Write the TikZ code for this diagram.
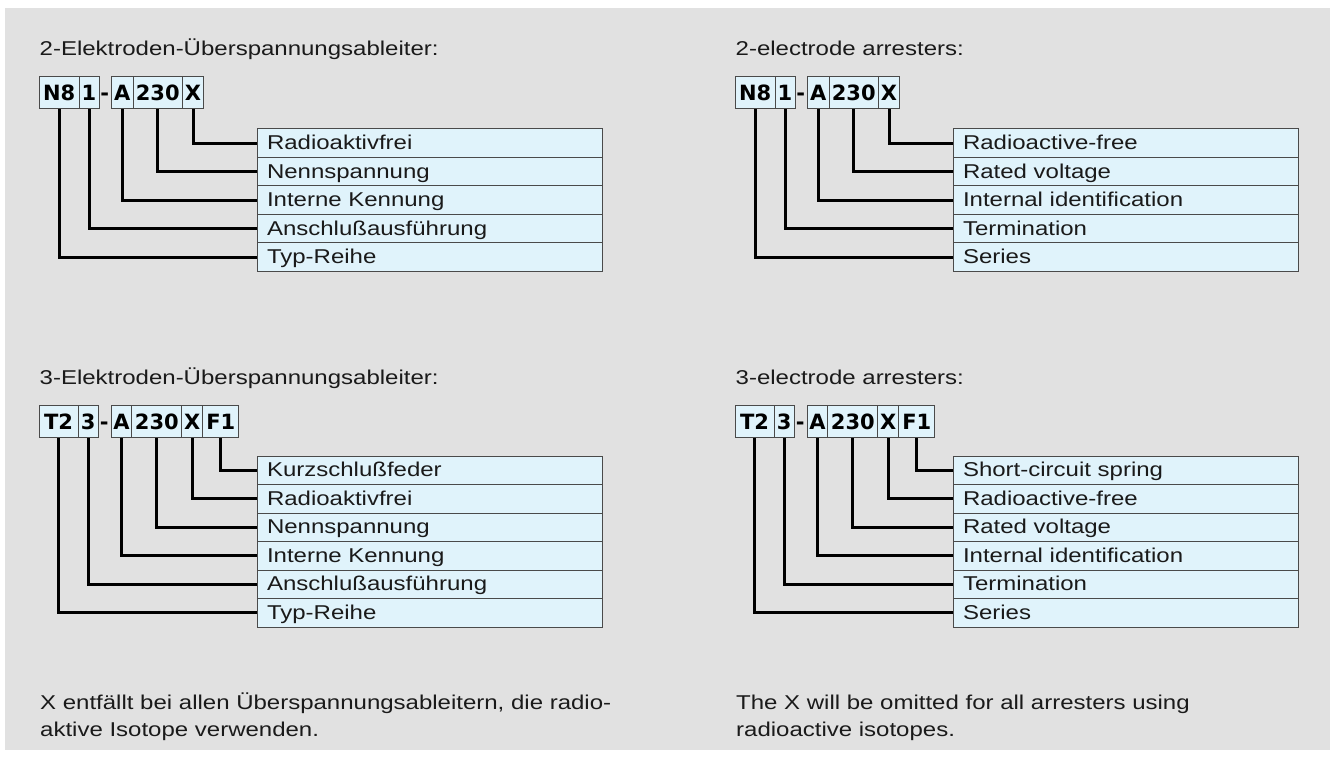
\documentclass[tikz,border=0pt]{standalone}
\usepackage{fontspec}
\setmainfont[FakeStretch=1.2]{Liberation Sans}
\newfontfamily\codefont{DejaVu Sans}
\definecolor{bggrey}{HTML}{E1E1E1}
\definecolor{boxfill}{HTML}{E0F3FB}
\definecolor{boxline}{HTML}{4A4A4A}
\definecolor{ink}{HTML}{1A1A1A}
\tikzset{
  codebox/.style={draw=boxline, line width=1pt, fill=boxfill, anchor=north west,
    minimum height=32pt, inner xsep=0pt, inner ysep=0pt, text height=20pt, text depth=4pt,
    font=\codefont\bfseries\fontsize{21}{24}\selectfont, text=black},
  hyph/.style={font=\codefont\bfseries\fontsize{21}{24}\selectfont, inner sep=0pt,
    text height=20pt, text depth=4pt, text=black},
  labelrow/.style={draw=boxline, line width=1pt, fill=boxfill, anchor=north west,
    minimum width=345pt, minimum height=28.5pt, inner xsep=9.5pt, inner ysep=0pt,
    text width=326pt, align=left, text height=17pt, text depth=4pt,
    font=\fontsize{20}{24}\selectfont, text=ink},
  plain/.style={anchor=base west, inner sep=0pt, font=\fontsize{20}{24}\selectfont, text=ink},
  conn/.style={line width=3pt, black, line join=miter, line cap=butt}
}
\begin{document}
\begin{tikzpicture}[x=1pt,y=-1pt]
\useasboundingbox (0,0) rectangle (1330,758);
\fill[bggrey] (5,8) rectangle (1330,750);

% ================= LEFT COLUMN =================
\node[plain] (t1) at (39.5,55) {2-Elektroden-Überspannungsableiter:};
\node[codebox, minimum width=39.5pt] (La) at (39,76) {N8};
\node[codebox, minimum width=20pt] (Lb) at (78.5,76) {1};
\node[hyph] (Lh) at (104.8,92) {-};
\node[codebox, minimum width=21.5pt] (Lc) at (111,76) {A};
\node[codebox, minimum width=49.5pt] (Ld) at (132.5,76) {230};
\node[codebox, minimum width=21pt] (Le) at (182,76) {X};

\node[labelrow] (Lr0) at (257,128.3) {Radioaktivfrei};
\node[labelrow] (Lr1) at (257,156.8) {Nennspannung};
\node[labelrow] (Lr2) at (257,185.3) {Interne Kennung};
\node[labelrow] (Lr3) at (257,213.8) {Anschlußausführung};
\node[labelrow] (Lr4) at (257,242.3) {Typ-Reihe};

\draw[conn] (Le.south) |- (Lr0.west);
\draw[conn] (Ld.south) |- (Lr1.west);
\draw[conn] (Lc.south) |- (Lr2.west);
\draw[conn] (Lb.south) |- (Lr3.west);
\draw[conn] (La.south) |- (Lr4.west);

\node[plain] (t2) at (39.5,384) {3-Elektroden-Überspannungsableiter:};
\node[codebox, minimum width=39pt] (Ma) at (38.5,405) {T2};
\node[codebox, minimum width=20.5pt] (Mb) at (77.5,405) {3};
\node[hyph] (Mh) at (104.2,421) {-};
\node[codebox, minimum width=20.6pt] (Mc) at (110.7,405) {A};
\node[codebox, minimum width=50pt] (Md) at (131.3,405) {230};
\node[codebox, minimum width=21pt] (Me) at (181.3,405) {X};
\node[codebox, minimum width=36pt] (Mf) at (202.3,405) {F1};

\node[labelrow] (Mr0) at (257,455.7) {Kurzschlußfeder};
\node[labelrow] (Mr1) at (257,484.2) {Radioaktivfrei};
\node[labelrow] (Mr2) at (257,512.7) {Nennspannung};
\node[labelrow] (Mr3) at (257,541.2) {Interne Kennung};
\node[labelrow] (Mr4) at (257,569.7) {Anschlußausführung};
\node[labelrow] (Mr5) at (257,598.2) {Typ-Reihe};

\draw[conn] (Mf.south) |- (Mr0.west);
\draw[conn] (Me.south) |- (Mr1.west);
\draw[conn] (Md.south) |- (Mr2.west);
\draw[conn] (Mc.south) |- (Mr3.west);
\draw[conn] (Mb.south) |- (Mr4.west);
\draw[conn] (Ma.south) |- (Mr5.west);

\node[plain] (n1) at (40,709) {X entfällt bei allen Überspannungsableitern, die radio-};
\node[plain] (n2) at (40,736) {aktive Isotope verwenden.};

% ================= RIGHT COLUMN =================
\begin{scope}[xshift=696pt]
\node[plain] (u1) at (39.5,55) {2-electrode arresters:};
\node[codebox, minimum width=39.5pt] (Ra) at (39,76) {N8};
\node[codebox, minimum width=20pt] (Rb) at (78.5,76) {1};
\node[hyph] (Rh) at (104.8,92) {-};
\node[codebox, minimum width=21.5pt] (Rc) at (111,76) {A};
\node[codebox, minimum width=49.5pt] (Rd) at (132.5,76) {230};
\node[codebox, minimum width=21pt] (Re) at (182,76) {X};

\node[labelrow] (Rr0) at (257,128.3) {Radioactive-free};
\node[labelrow] (Rr1) at (257,156.8) {Rated voltage};
\node[labelrow] (Rr2) at (257,185.3) {Internal identification};
\node[labelrow] (Rr3) at (257,213.8) {Termination};
\node[labelrow] (Rr4) at (257,242.3) {Series};

\draw[conn] (Re.south) |- (Rr0.west);
\draw[conn] (Rd.south) |- (Rr1.west);
\draw[conn] (Rc.south) |- (Rr2.west);
\draw[conn] (Rb.south) |- (Rr3.west);
\draw[conn] (Ra.south) |- (Rr4.west);

\node[plain] (u2) at (39.5,384) {3-electrode arresters:};
\node[codebox, minimum width=39pt] (Sa) at (38.5,405) {T2};
\node[codebox, minimum width=20.5pt] (Sb) at (77.5,405) {3};
\node[hyph] (Sh) at (104.2,421) {-};
\node[codebox, minimum width=20.6pt] (Sc) at (110.7,405) {A};
\node[codebox, minimum width=50pt] (Sd) at (131.3,405) {230};
\node[codebox, minimum width=21pt] (Se) at (181.3,405) {X};
\node[codebox, minimum width=36pt] (Sf) at (202.3,405) {F1};

\node[labelrow] (Sr0) at (257,455.7) {Short-circuit spring};
\node[labelrow] (Sr1) at (257,484.2) {Radioactive-free};
\node[labelrow] (Sr2) at (257,512.7) {Rated voltage};
\node[labelrow] (Sr3) at (257,541.2) {Internal identification};
\node[labelrow] (Sr4) at (257,569.7) {Termination};
\node[labelrow] (Sr5) at (257,598.2) {Series};

\draw[conn] (Sf.south) |- (Sr0.west);
\draw[conn] (Se.south) |- (Sr1.west);
\draw[conn] (Sd.south) |- (Sr2.west);
\draw[conn] (Sc.south) |- (Sr3.west);
\draw[conn] (Sb.south) |- (Sr4.west);
\draw[conn] (Sa.south) |- (Sr5.west);

\node[plain] (v1) at (40,709) {The X will be omitted for all arresters using};
\node[plain] (v2) at (40,736) {radioactive isotopes.};
\end{scope}
\end{tikzpicture}
\end{document}
